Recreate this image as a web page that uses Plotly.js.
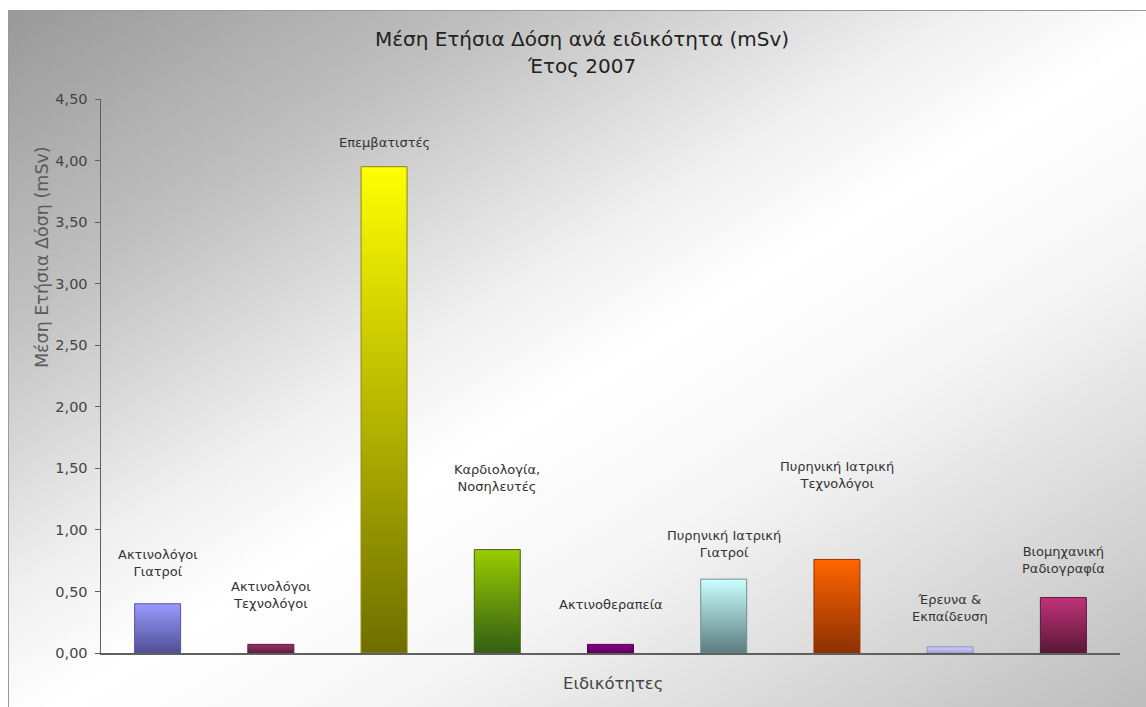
<!DOCTYPE html>
<html>
<head>
<meta charset="utf-8">
<script src="https://cdn.plot.ly/plotly-3.0.1.min.js"></script>
<style>
  html, body { margin: 0; padding: 0; background: #ffffff; width: 1146px; height: 707px; overflow: hidden; }
  #frame { position: absolute; left: 8px; top: 10px; width: 1138px; height: 697px;
           border-left: 1px solid #9a9a9a; border-top: 1px solid #9a9a9a;
           background: linear-gradient(to bottom right, #999999 0%, #c0c0c0 22%, #f0f0f0 42%, #ffffff 52%, #f6f6f6 66%, #bcbcbc 100%); }
  #chart { position: absolute; left: 0; top: 0; width: 1146px; height: 707px; }
</style>
</head>
<body>
<div id="frame"></div>
<div id="chart"></div>
<script>
// ---- data ----
const categories = [
  "Ακτινολόγοι<br>Γιατροί",
  "Ακτινολόγοι<br>Τεχνολόγοι",
  "Επεμβατιστές",
  "Καρδιολογία,<br>Νοσηλευτές",
  "Ακτινοθεραπεία",
  "Πυρηνική Ιατρική<br>Γιατροί",
  "Πυρηνική Ιατρική<br>Τεχνολόγοι",
  "Έρευνα &<br>Εκπαίδευση",
  "Βιομηχανική<br>Ραδιογραφία"
];
const doses = [0.40, 0.07, 3.95, 0.84, 0.07, 0.60, 0.76, 0.05, 0.45];
const tickValues = [0, 0.5, 1, 1.5, 2, 2.5, 3, 3.5, 4, 4.5];
const tickLabels = ["0,00", "0,50", "1,00", "1,50", "2,00", "2,50", "3,00", "3,50", "4,00", "4,50"];
const titleLine1 = "Μέση Ετήσια Δόση ανά ειδικότητα (mSv)";
const titleLine2 = "Έτος 2007";
const yTitle = "Μέση Ετήσια Δόση (mSv)";
const xTitle = "Ειδικότητες";

// ---- styles ----
const gradTop    = ["#9a9aff", "#993366", "#ffff00", "#99cc00", "#860086", "#ccffff", "#ff6600", "#ccccff", "#c2337a"];
const gradBottom = ["#4f4f96", "#5e1c3c", "#6e6e00", "#335e14", "#5e005e", "#5b7c80", "#8c3000", "#a8a8d8", "#581836"];
const outline    = ["#55559a", "#5a1a3a", "#8a8a00", "#3d6610", "#500050", "#6e9090", "#993300", "#9090c0", "#5a1838"];
const labelShift = [41, 49, 24, 72, 40, 35, 84, 39, 38];

const FONT = "DejaVu Sans, Verdana, sans-serif";
const catIdx = categories.map((c, i) => i);

const trace = {
  type: "bar",
  x: catIdx,
  y: doses,
  marker: { color: gradTop, line: { color: outline, width: 1 } },
  hoverinfo: "none"
};

const annotations = categories.map((c, i) => ({
  x: catIdx[i], y: doses[i], xref: "x", yref: "y",
  text: c, showarrow: false, yanchor: "middle", yshift: labelShift[i],
  font: { family: FONT, size: 13, color: "#333333" }
}));

annotations.push({
  xref: "paper", yref: "paper", x: 0.472, y: 1.0596, xanchor: "center", yanchor: "middle",
  text: titleLine2, showarrow: false, font: { family: FONT, size: 20, color: "#222222" }
});
annotations.push({
  xref: "paper", yref: "paper", x: -0.0579, y: 0.7148, xanchor: "center", yanchor: "middle",
  text: yTitle, textangle: -90, showarrow: false, font: { family: FONT, size: 17.5, color: "#5a5a5a" }
});
annotations.push({
  xref: "paper", yref: "paper", x: 0.5025, y: -0.0542, xanchor: "center", yanchor: "middle",
  text: xTitle, showarrow: false, font: { family: FONT, size: 16.5, color: "#444444" }
});

const layout = {
  width: 1146, height: 707,
  margin: { l: 101, r: 26, t: 99, b: 54, pad: 0 },
  paper_bgcolor: "rgba(0,0,0,0)",
  plot_bgcolor: "rgba(0,0,0,0)",
  showlegend: false,
  bargap: 0.594,
  title: {
    text: titleLine1, x: 582 / 1146, xanchor: "center", xref: "container",
    y: 1 - 39 / 707, yref: "container", yanchor: "middle",
    font: { family: FONT, size: 20, color: "#222222" }
  },
  xaxis: {
    type: "linear", range: [-0.5, categories.length - 0.5],
    showticklabels: false, ticks: "", showgrid: false, zeroline: false,
    showline: true, linecolor: "#5f5f5f", linewidth: 1.5, fixedrange: true
  },
  yaxis: {
    range: [0, 4.5], tickmode: "array", tickvals: tickValues, ticktext: tickLabels,
    ticks: "outside", ticklen: 5, tickwidth: 1, tickcolor: "#5f5f5f",
    showgrid: false, zeroline: false, showline: true, linecolor: "#5f5f5f", linewidth: 1.5,
    tickfont: { family: FONT, size: 14.5, color: "#444444" }, ticklabelstandoff: 4, fixedrange: true
  },
  annotations: annotations
};

Plotly.newPlot("chart", [trace], layout, { staticPlot: true, displayModeBar: false }).then(gd => {
  const svg = gd.querySelector("svg.main-svg");
  const ns = "http://www.w3.org/2000/svg";
  let defs = svg.querySelector("defs");
  if (!defs) { defs = document.createElementNS(ns, "defs"); svg.insertBefore(defs, svg.firstChild); }
  const paths = gd.querySelectorAll(".barlayer .point path");
  paths.forEach((p, i) => {
    const g = document.createElementNS(ns, "linearGradient");
    g.setAttribute("id", "barGrad" + i);
    g.setAttribute("x1", "0"); g.setAttribute("y1", "0");
    g.setAttribute("x2", "0"); g.setAttribute("y2", "1");
    const s1 = document.createElementNS(ns, "stop");
    s1.setAttribute("offset", "0"); s1.setAttribute("stop-color", gradTop[i]);
    const s2 = document.createElementNS(ns, "stop");
    s2.setAttribute("offset", "1"); s2.setAttribute("stop-color", gradBottom[i]);
    g.appendChild(s1); g.appendChild(s2);
    defs.appendChild(g);
    p.style.fill = "url(#barGrad" + i + ")";
  });
});
</script>
</body>
</html>
